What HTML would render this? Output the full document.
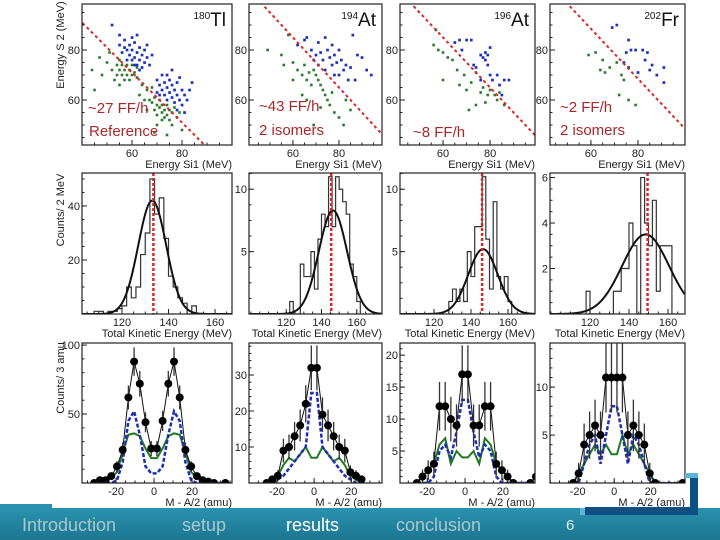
<!DOCTYPE html>
<html><head><meta charset="utf-8"><style>
html,body{margin:0;padding:0;background:#fff;}
svg{display:block;font-family:"Liberation Sans",sans-serif;}
</style></head><body>
<svg id="fig" width="720" height="540" viewBox="0 0 720 540">
<defs><linearGradient id="barg" x1="0" y1="0" x2="0" y2="1"><stop offset="0" stop-color="#2a93ae"/><stop offset="1" stop-color="#1c7692"/></linearGradient></defs>
<g id="plots"></g>
<g>
<rect x="0" y="504" width="52" height="36" fill="url(#barg)"/>
<rect x="0" y="508" width="720" height="32" fill="url(#barg)"/>
<rect x="685" y="473" width="13" height="5" fill="#5fb4dc"/>
<rect x="690" y="478" width="8" height="37" fill="#0e4f84"/>
<rect x="585" y="507" width="113" height="8" fill="#0e4f84"/>
<rect x="580" y="508" width="5" height="7" fill="#5fb4dc"/>
<text x="22" y="531" font-size="18" fill="#a9c7cf">Introduction</text>
<text x="182" y="531" font-size="18" fill="#a9c7cf">setup</text>
<text x="286" y="531" font-size="18" fill="#ffffff">results</text>
<text x="396" y="531" font-size="18" fill="#a9c7cf">conclusion</text>
<text x="566" y="530" font-size="15" fill="#d8ecf2">6</text>
</g>
</svg>
<script>
// ---------- Row 1 scatter data [E_Si1, E_S2] ----------
const sc1Blue=[[52,90],[55,82],[56,79],[57,84],[58,80],[59,78],[59,82],[60,76],[60,80],[61,77],[61,83],[62,79],[62,74],[63,81],[63,76],[64,78],[64,73],[65,80],[65,75],[66,77],[58,76],[57,81],[60,85],[62,86],[66,82],[68,78],[55,86],[61,74],[63,72],[67,74],[70,68],[71,66],[72,64],[73,67],[73,62],[74,65],[74,60],[75,68],[75,63],[76,61],[76,66],[77,64],[77,59],[78,62],[78,67],[79,60],[80,64],[80,58],[81,62],[82,60],[83,64],[72,70],[74,70],[76,72],[79,69],[70,63],[84,67],[78,56],[81,55],[71,62]];
const sc1Green=[[45,64],[48,70],[50,75],[52,72],[53,68],[54,74],[54,70],[55,76],[55,72],[56,70],[56,74],[57,68],[57,72],[58,74],[58,70],[59,72],[59,68],[60,70],[60,74],[61,71],[62,69],[62,73],[55,66],[51,79],[47,77],[64,66],[66,64],[68,65],[69,61],[44,72],[68,59],[69,56],[70,58],[70,54],[71,57],[71,60],[72,55],[72,58],[73,56],[73,53],[74,58],[74,54],[75,56],[75,52],[76,55],[77,57],[72,52],[70,50],[76,50],[78,53],[66,56],[67,60],[80,48],[69,47],[74,46],[65,60],[63,62],[79,55]];
const sc2Blue=[[62,82],[65,84],[66,85],[68,80],[69,76],[70,78],[71,74],[72,79],[73,76],[74,72],[75,80],[76,77],[77,74],[78,78],[79,75],[80,80],[81,76],[82,72],[80,70],[78,70],[83,74],[85,73],[86,86],[88,78],[90,77],[92,72],[94,70],[84,68],[77,82],[74,85],[71,83],[87,68]];
const sc2Green=[[49,80],[55,78],[58,86],[60,75],[62,72],[64,70],[65,74],[66,68],[67,71],[68,66],[69,72],[70,70],[71,68],[72,66],[73,64],[74,62],[75,60],[76,58],[77,63],[78,55],[80,53],[82,50],[83,60],[66,60],[72,57],[69,50],[85,56],[64,62],[60,68],[56,74]];
const sc3Blue=[[65,83],[67,84],[68,80],[70,84],[72,84],[73,74],[74,73],[76,78],[77,77],[78,79],[79,78],[80,81],[79,74],[80,70],[81,68],[83,70],[84,66],[85,62],[86,68],[88,68],[78,76],[76,68]];
const sc3Green=[[57,88],[56,82],[58,80],[60,79],[62,77],[64,76],[60,68],[66,72],[67,66],[69,70],[70,64],[72,67],[74,71],[76,63],[77,65],[78,59],[79,62],[80,64],[82,62],[83,60],[84,63],[86,58],[74,58],[71,56]];
const sc4Blue=[[69,89],[71,90],[76,84],[75,79],[77,80],[79,80],[82,80],[84,79],[83,76],[85,72],[86,74],[88,70],[91,73],[91,67],[74,75],[76,73],[80,71]];
const sc4Green=[[59,78],[62,79],[65,76],[64,72],[66,71],[68,73],[71,75],[73,70],[74,68],[72,62],[76,60],[79,58]];
const cutLineIntercepts=[131,145,145,148.5];
// ---------- Row 2 histograms (2 MeV bins, start edges) ----------
const h1Edges=[108,110,112,114,116,118,120,122,124,126,128,130,132,134,136,138,140,142,144,146,148,150];
const h1Counts=[1,1,0,1,1,2,3,10,6,10,22,30,50,37,43,28,14,10,6,4,0,3];
const h2Edges=[122,124,126,128,130,132,134,136,138,140,142,144,146,148,150,152,154,156,158,160];
const h2Counts=[1,0,0,4,3,3,5,2,6,8,7,11,7,11,10,9,8,4,3,1];
const h3Edges=[128,130,132,134,136,138,140,142,144,146,148,150,152,154,156,158,160];
const h3Counts=[1,2,1,2,1,5,3,7,7,11,6,2,9,3,2,3,1];
const h4Edges=[118,120,130,132,134,136,138,140,142,144,146,148,150,152,154,156,158,160,162];
const h4Counts=[1,0,0,1,1,2,2,4,3,0,6,4,3,5,1,3,3,3,0];
const fitMean=[133,146.5,146.5,148.5];
const fitSigma=[6,8,8,12];
const fitAmp=[42,8.3,5.2,3.5];
const tkeMarker=[133.5,145.5,146,149.5];
// ---------- Row 3 mass distributions ----------
const m1X=[-31.5,-28.5,-25.5,-22.5,-19.5,-16.5,-13.5,-10.5,-7.5,-4.5,-1.5,1.5,4.5,7.5,10.5,13.5,16.5,19.5,22.5,25.5,28.5,31.5,37.5];
const m1Data=[0,2,2,5,12,24,62,88,72,44,25,25,45,72,88,62,24,12,5,2,1,0,0];
const m1Blue=[0,0,0,0,2,15,45,52,35,12,7,7,12,35,52,45,15,2,0,0,0,0,0];
const m1Green=[0,1,2,4,8,22,35,36,34,25,18,18,25,34,36,35,22,8,4,2,1,0,0];
const m2X=[-25.5,-22.5,-19.5,-16.5,-13.5,-10.5,-7.5,-4.5,-1.5,1.5,4.5,7.5,10.5,13.5,16.5,19.5,22.5,25.5];
const m2Data=[0,1,2,9,10,13,16,22,32,32,19,16,13,10,9,3,2,1];
const m2Blue=[0,0,1,2,4,6,8,10,25,25,10,8,6,4,2,1,0,0];
const m2Green=[0,1,2,5,7,6,8,10,7,7,10,8,6,7,5,2,1,0];
const m3X=[-25.5,-22.5,-19.5,-16.5,-13.5,-10.5,-7.5,-4.5,-1.5,1.5,4.5,7.5,10.5,13.5,16.5,19.5,22.5,25.5,34.5,37.5];
const m3Data=[0,1,2,3,12,12,10,9,17,17,9,9,12,12,3,2,1,0,0,1];
const m3Blue=[0,0,0,1,5,6,4,8,13,13,8,4,6,5,1,0,0,0,0,0];
const m3Green=[0,1,2,3,6,7,3,5,4,4,5,3,7,6,3,2,1,0,0,1];
const m4X=[-22.5,-19.5,-16.5,-13.5,-10.5,-7.5,-4.5,-1.5,1.5,4.5,7.5,10.5,13.5,16.5,19.5,22.5,37.5];
const m4Data=[0,1,4,5,6,5,11,11,11,11,5,6,5,4,1,0,0];
const m4Blue=[0,0,2,4,5,2,5,8,8,5,2,5,4,2,0,0,0];
const m4Green=[0,1,2,3,4,3,4,3,3,5,3,4,3,2,1,0,0];
// ---------- tick labels ----------
const r1XTicks=[60,80];const r1YTicks=[60,80];
const r2XTicks=[120,140,160];
const r2YTicks=[[20,40],[5,10],[5,10],[2,4,6]];
const r3XTicks=[-20,0,20];
const r3YTicks=[[50,100],[10,20,30],[5,10,15,20],[5,10]];
const isotopes=[["180","Tl"],["194","At"],["196","At"],["202","Fr"]];

const NS="http://www.w3.org/2000/svg";
const root=document.getElementById('plots');
function mk(tag,attrs,parent){const e=document.createElementNS(NS,tag);for(const k in attrs)e.setAttribute(k,attrs[k]);(parent||root).appendChild(e);return e;}
function lin(d0,d1,r0,r1){return v=>r0+(v-d0)/(d1-d0)*(r1-r0);}
const cols=[[82,232],[249,382],[400,535],[550,685]];
const rows=[[4,145],[173,314],[343,483]];
const r1X=[[40,100],[40.9,98.7],[41.7,99.1],[42.6,100]];
const r1Y=[42,98.4];
const r2X=[[102.8,167.3],[98.9,174.3],[101.6,174.6],[99.5,168.7]];
const r2Y=[[0,52.2],[0,11.3],[0,11.3],[0,6.2]];
const r3X=[[-37.9,41],[-35,36.5],[-34.4,37],[-35.2,38.8]];
const r3Y=[[0,101.5],[0,38.9],[0,21.9],[0,14.6]];
let clipN=0;
function frame(c,r,name){
  const [x0,x1]=cols[c],[y0,y1]=rows[r];
  const g=mk('g',{});
  
  
  const id='cp'+(clipN++);
  const cp=mk('clipPath',{id:id},g);mk('rect',{x:x0,y:y0,width:x1-x0,height:y1-y0},cp);
  const inner=mk('g',{'clip-path':'url(#'+id+')'},g);
  const fr=mk('rect',{x:x0,y:y0,width:x1-x0,height:y1-y0,fill:'none',stroke:'#222','stroke-width':1.2},g);
  
  
  return {g,inner,x0,x1,y0,y1};
}
function ticks(P,sx,sy,xt,yt,xs,ys){
  xt.forEach(v=>{const X=sx(v);mk('line',{x1:X,x2:X,y1:P.y1,y2:P.y1-5,stroke:'#222'},P.g);
    const t=mk('text',{x:X,y:P.y1+12,'font-size':11,'text-anchor':'middle',fill:'#222'},P.g);t.textContent=v;
    });
  yt.forEach(v=>{const Y=sy(v);mk('line',{x1:P.x0,x2:P.x0+5,y1:Y,y2:Y,stroke:'#222'},P.g);
    const t=mk('text',{x:P.x0-2,y:Y+4,'font-size':11,'text-anchor':'end',fill:'#222'},P.g);t.textContent=v;
    });
  const [a,b]=xs;for(let v=Math.ceil(a/xs[2])*xs[2];v<b;v+=xs[2]){const X=sx(v);mk('line',{x1:X,x2:X,y1:P.y1,y2:P.y1-2.5,stroke:'#222'},P.g);}
  const [c,d]=ys;for(let v=Math.ceil(c/ys[2])*ys[2];v<d;v+=ys[2]){if(v<=c)continue;const Y=sy(v);mk('line',{x1:P.x0,x2:P.x0+2.5,y1:Y,y2:Y,stroke:'#222'},P.g);}
}
function xtitle(P,txt){const t=mk('text',{x:P.x1,y:P.y1+23,'font-size':11,'text-anchor':'end',fill:'#222'},P.g);t.textContent=txt;
  }
function ytitle(x,y,txt){const t=mk('text',{x:0,y:0,'font-size':11,'text-anchor':'middle',fill:'#222',transform:`translate(${x},${y}) rotate(-90)`});t.textContent=txt;
  }
function note(x,y,txt){const t=mk('text',{x:x,y:y,'font-size':15,fill:'#a8282c'});t.textContent=txt;
  }

// Row 1
const scB=[sc1Blue,sc2Blue,sc3Blue,sc4Blue],scG=[sc1Green,sc2Green,sc3Green,sc4Green];
for(let c=0;c<4;c++){
  const P=frame(c,0,'scatter-panel-'+(c+1));
  const sx=lin(r1X[c][0],r1X[c][1],P.x0,P.x1),sy=lin(r1Y[0],r1Y[1],P.y1,P.y0);
  scG[c].forEach(p=>{const e=mk('rect',{x:sx(p[0])-1.3,y:sy(p[1])-1.3,width:2.6,height:2.6,fill:'#2a7a2a'},P.inner);
    });
  scB[c].forEach(p=>{const e=mk('rect',{x:sx(p[0])-1.3,y:sy(p[1])-1.3,width:2.7,height:2.7,fill:'#1a2fc0'},P.inner);
    });
  const b=cutLineIntercepts[c];
  const l=mk('line',{x1:sx(30),y1:sy(b-30),x2:sx(110),y2:sy(b-110),stroke:'#d42a2a','stroke-width':2,'stroke-dasharray':'3,3'},P.inner);
  
  ticks(P,sx,sy,r1XTicks,r1YTicks,[r1X[c][0],r1X[c][1],5],[r1Y[0],r1Y[1],5]);
  xtitle(P,'Energy Si1 (MeV)');
  const it=mk('text',{x:P.x1-6,y:P.y0+22,'font-size':19,'text-anchor':'end',fill:'#111'},P.g);
  
  const s1=mk('tspan',{'font-size':10,dy:-7},it);s1.textContent=isotopes[c][0];
  const s2=mk('tspan',{dy:7},it);s2.textContent=isotopes[c][1];
}
ytitle(64,45,'Energy S 2 (MeV)');
note(88,113,'~27 FF/h');note(89,136,'Reference');
note(259,111,'~43 FF/h');note(259,135,'2 isomers');
note(413,137,'~8 FF/h');
note(560,112,'~2 FF/h');note(560,135,'2 isomers');

// Row 2
const hE=[h1Edges,h2Edges,h3Edges,h4Edges],hC=[h1Counts,h2Counts,h3Counts,h4Counts];
for(let c=0;c<4;c++){
  const P=frame(c,1,'tke-panel-'+(c+1));
  const sx=lin(r2X[c][0],r2X[c][1],P.x0,P.x1),sy=lin(r2Y[c][0],r2Y[c][1],P.y1,P.y0);
  let d='M'+sx(hE[c][0])+','+sy(0);
  hE[c].forEach((e,i)=>{d+='L'+sx(e)+','+sy(hC[c][i])+'L'+sx(e+2)+','+sy(hC[c][i]);});
  d+='L'+sx(hE[c][hE[c].length-1]+2)+','+sy(0);
  const h=mk('path',{d:d,fill:'none',stroke:'#333','stroke-width':1.2},P.inner);
  
  let f='';for(let v=r2X[c][0];v<=r2X[c][1];v+=0.5){const y=fitAmp[c]*Math.exp(-0.5*Math.pow((v-fitMean[c])/fitSigma[c],2));f+=(f?'L':'M')+sx(v)+','+sy(y);}
  const fl=mk('path',{d:f,fill:'none',stroke:'#111','stroke-width':2},P.inner);
  
  const m=mk('line',{x1:sx(tkeMarker[c]),x2:sx(tkeMarker[c]),y1:P.y0,y2:P.y1,stroke:'#d42a2a','stroke-width':2.5,'stroke-dasharray':'3,2'},P.inner);
  
  ticks(P,sx,sy,r2XTicks,r2YTicks[c],[r2X[c][0],r2X[c][1],5],[0,r2Y[c][1],r2YTicks[c][0]/4]);
  xtitle(P,'Total Kinetic Energy (MeV)');
}
ytitle(64,210,'Counts/ 2 MeV');

// Row 3
const mX=[m1X,m2X,m3X,m4X],mD=[m1Data,m2Data,m3Data,m4Data],mB=[m1Blue,m2Blue,m3Blue,m4Blue],mG=[m1Green,m2Green,m3Green,m4Green];
for(let c=0;c<4;c++){
  const P=frame(c,2,'mass-panel-'+(c+1));
  const sx=lin(r3X[c][0],r3X[c][1],P.x0,P.x1),sy=lin(r3Y[c][0],r3Y[c][1],P.y1,P.y0);
  const path=(ys)=>ys.map((v,i)=>(i?'L':'M')+sx(mX[c][i])+','+sy(v)).join('');
  const g1=mk('path',{d:path(mG[c]),fill:'none',stroke:'#217a21','stroke-width':2},P.inner);
  
  const b1=mk('path',{d:path(mB[c]),fill:'none',stroke:'#1f2fb5','stroke-width':2.5,'stroke-dasharray':'4,2'},P.inner);
  
  const k=mk('path',{d:path(mD[c]),fill:'none',stroke:'#111','stroke-width':1},P.inner);
  
  mD[c].forEach((v,i)=>{const X=sx(mX[c][i]);const e=Math.sqrt(v)*1.1;
    if(v>0){const eb=mk('line',{x1:X,x2:X,y1:sy(v-e),y2:sy(v+e),stroke:'#333','stroke-width':1.3},P.inner);
      }
    const pt=mk('circle',{cx:X,cy:sy(v),r:4,fill:'#000'},P.inner);
    });
  ticks(P,sx,sy,r3XTicks,r3YTicks[c],[r3X[c][0],r3X[c][1],5],[0,r3Y[c][1],r3YTicks[c][0]/5]);
  xtitle(P,'M - A/2 (amu)');
}
ytitle(64,378,'Counts/ 3 amu');
</script>
</body></html>
